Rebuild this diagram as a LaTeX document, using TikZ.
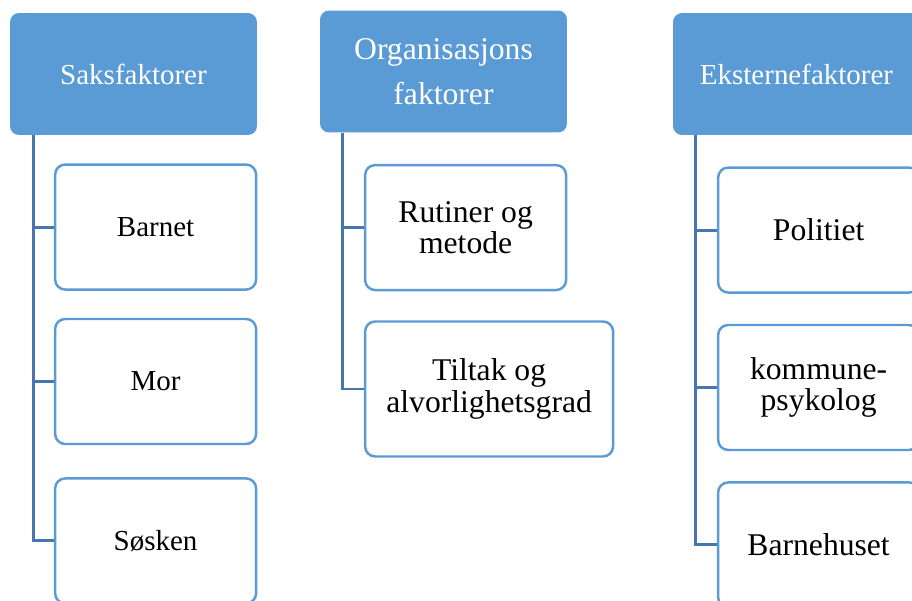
\documentclass[tikz,border=0pt]{standalone}
\usepackage{fontspec}
\setmainfont{Liberation Serif}
\usetikzlibrary{positioning}
\definecolor{hdrblue}{RGB}{91,155,213}
\definecolor{stemblue}{RGB}{70,120,175}

\begin{document}
\begin{tikzpicture}[x=0.02cm, y=-0.02cm, node distance=0.6cm,
	h/.style={rectangle, rounded corners=0.18cm, fill=hdrblue, text=white, minimum width=4.94cm, minimum height=2.44cm, align=center, font=\rmfamily\fontsize{16.5}{25.5}\selectfont},
	c/.style={rectangle, rounded corners=0.2cm, draw=hdrblue, line width=1.4pt, fill=white, minimum width=4.02cm, minimum height=2.5cm, align=center, font=\rmfamily\fontsize{18}{18}\selectfont},
	sm/.style={font=\rmfamily\fontsize{16.5}{17}\selectfont},
	l/.style={draw=stemblue, line width=1.7pt}]
		\useasboundingbox (0,0) rectangle (912,600);
		\clip (0,0) rectangle (912,600);

		% headers
		\node[h] (saks) at (133.5,74) {Saksfaktorer};
		\node[h, font=\rmfamily\fontsize{18}{25.5}\selectfont] (org) at (443.5,71.5) {Organisasjons\\faktorer};
		\node[h] (ekst) at (796.5,74) {Eksternefaktorer};

		% children
		\node[c, sm, below=0.56cm of saks.south east, anchor=north east] (barnet) {Barnet};
		\node[c, sm, below=0.54cm of barnet] (mor) {Mor};
		\node[c, sm, below=0.64cm of mor] (soesken) {Søsken};

		\node[c, below=0.62cm of org.south east, anchor=north east] (rutiner) {Rutiner og\\metode};
		\node[c, minimum width=4.96cm, minimum height=2.7cm, below=0.58cm of rutiner.south west, anchor=north west] (tiltak) {Tiltak og\\alvorlighetsgrad};

		\node[c, below=0.62cm of ekst.south east, anchor=north east] (politi) {Politiet};
		\node[c, below=0.6cm of politi] (psyk) {kommune-\\psykolog};
		\node[c, below=0.6cm of psyk] (bhus) {Barnehuset};

		% stems
		\draw[l] ([xshift=0.48cm]saks.south west) coordinate (t1) |- (soesken.west);
		\draw[l] (t1 |- barnet.west) -- (barnet.west);
		\draw[l] (t1 |- mor.west) -- (mor.west);

		\draw[l] ([xshift=0.46cm]org.south west) coordinate (t2) |- (tiltak.west);
		\draw[l] (t2 |- rutiner.west) -- (rutiner.west);

		\draw[l] ([xshift=0.46cm]ekst.south west) coordinate (t3) |- (bhus.west);
		\draw[l] (t3 |- politi.west) -- (politi.west);
		\draw[l] (t3 |- psyk.west) -- (psyk.west);
	\end{tikzpicture}
\end{document}
